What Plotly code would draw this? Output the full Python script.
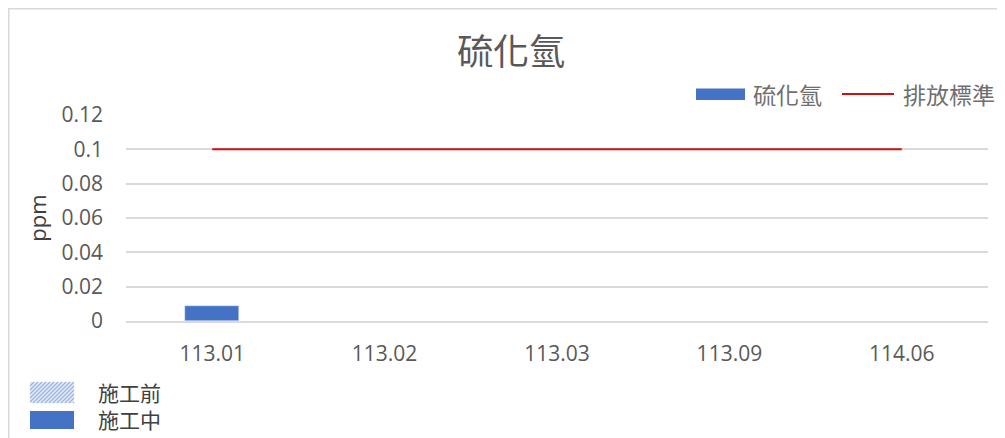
import plotly.graph_objects as go

# ---- data ----
months = ["113.01", "113.02", "113.03", "113.09", "114.06"]
h2s_values = [0.009, None, None, None, None]
standard_values = [0.1, 0.1, 0.1, 0.1, 0.1]
y_ticks = [0, 0.02, 0.04, 0.06, 0.08, 0.1, 0.12]
y_tick_labels = ["0", "0.02", "0.04", "0.06", "0.08", "0.1", "0.12"]

# the page places the figure 8px from the window's top-left corner
OFF = 8
W, H = 1005 - OFF, 438 - OFF
L, R, T, B = 126 - OFF, 17, 115 - OFF, 117
PW, PH = W - L - R, H - T - B


def px(x):
    # x given in window pixels
    return (x - OFF - L) / PW


def py(y):
    return (H - B - (y - OFF)) / PH


BLUE = "#4472C4"
RED = "#D01010"
GRAY_TXT = "#595959"
LEG_TXT = "#6E6E6E"
GRID = "#D9D9D9"
CJK = "Noto Sans CJK TC"

fig = go.Figure()
fig.add_trace(go.Bar(x=months, y=h2s_values, name="硫化氫", marker_color=BLUE,
                     width=0.31, showlegend=False))
fig.add_trace(go.Scatter(x=months, y=standard_values, name="排放標準", mode="lines",
                         line=dict(color=RED, width=2), showlegend=False))

shapes = []
annotations = []

# outer chart frame
shapes.append(dict(type="rect", xref="paper", yref="paper",
                   x0=px(8.75), x1=px(1001.5), y0=py(8.75), y1=py(470),
                   line=dict(color=GRID, width=1.5), fillcolor="rgba(0,0,0,0)", layer="below"))

# top legend
shapes.append(dict(type="rect", xref="paper", yref="paper",
                   x0=px(696), x1=px(745), y0=py(88.5), y1=py(100),
                   line=dict(width=0), fillcolor=BLUE))
annotations.append(dict(text="硫化氫", xref="paper", yref="paper", x=px(751), y=py(94),
                        xanchor="left", yanchor="middle", showarrow=False,
                        font=dict(family=CJK, size=23, color=LEG_TXT)))
shapes.append(dict(type="line", xref="paper", yref="paper",
                   x0=px(842), x1=px(894), y0=py(94), y1=py(94),
                   line=dict(color=RED, width=2)))
annotations.append(dict(text="排放標準", xref="paper", yref="paper", x=px(901), y=py(94),
                        xanchor="left", yanchor="middle", showarrow=False,
                        font=dict(family=CJK, size=23, color=LEG_TXT)))

# bottom legend: hatched (施工前) and solid (施工中)
hx0, hx1, hy0, hy1 = 30, 74, 382, 403
shapes.append(dict(type="rect", xref="paper", yref="paper",
                   x0=px(hx0), x1=px(hx1), y0=py(hy0), y1=py(hy1),
                   line=dict(width=0), fillcolor="#E4EAF7"))
path = ""
step = 4
k = hx0 - (hy1 - hy0)
while k < hx1:
    xa, ya = k, hy1
    xb, yb = k + (hy1 - hy0), hy0
    if xa < hx0:
        ya = hy1 - (hx0 - xa)
        xa = hx0
    if xb > hx1:
        yb = hy0 + (xb - hx1)
        xb = hx1
    path += f"M{px(xa)},{py(ya)} L{px(xb)},{py(yb)} "
    k += step
shapes.append(dict(type="path", xref="paper", yref="paper", path=path,
                   line=dict(color="#9DB3E2", width=1.2)))
shapes.append(dict(type="rect", xref="paper", yref="paper",
                   x0=px(30), x1=px(74), y0=py(411), y1=py(429),
                   line=dict(width=0), fillcolor=BLUE))
annotations.append(dict(text="施工前<br>施工中", xref="paper", yref="paper", x=px(96), y=py(405),
                        xanchor="left", yanchor="middle", align="left", showarrow=False,
                        font=dict(family=CJK, size=21, color="#404040")))

fig.update_layout(
    width=W, height=H,
    margin=dict(l=L, r=R, t=T, b=B, pad=0),
    paper_bgcolor="white", plot_bgcolor="white",
    title=dict(text="硫化氫", x=(511 - OFF) / W, xref="container", xanchor="center",
               y=1 - (52 - OFF) / H, yref="container", yanchor="middle",
               font=dict(family=CJK, size=36, color=GRAY_TXT)),
    shapes=shapes, annotations=annotations,
    showlegend=False,
    xaxis=dict(type="category", showgrid=False, showline=True, linecolor=GRID, linewidth=1.5,
               zeroline=False, ticks="", ticklabelstandoff=13,
               tickfont=dict(family="Open Sans", size=21, color=GRAY_TXT),
               range=[-0.5, 4.5]),
    yaxis=dict(range=[0, 0.12], tickvals=y_ticks, ticktext=y_tick_labels,
               showgrid=True, gridcolor=GRID, gridwidth=1.5, zeroline=False, showline=False,
               ticks="", ticklabelstandoff=22,
               tickfont=dict(family="Open Sans", size=21, color=GRAY_TXT),
               title=dict(text="ppm", standoff=8,
                          font=dict(family="Open Sans", size=22, color="#404040"))),
    bargap=0,
)

fig.write_html("out.html")
